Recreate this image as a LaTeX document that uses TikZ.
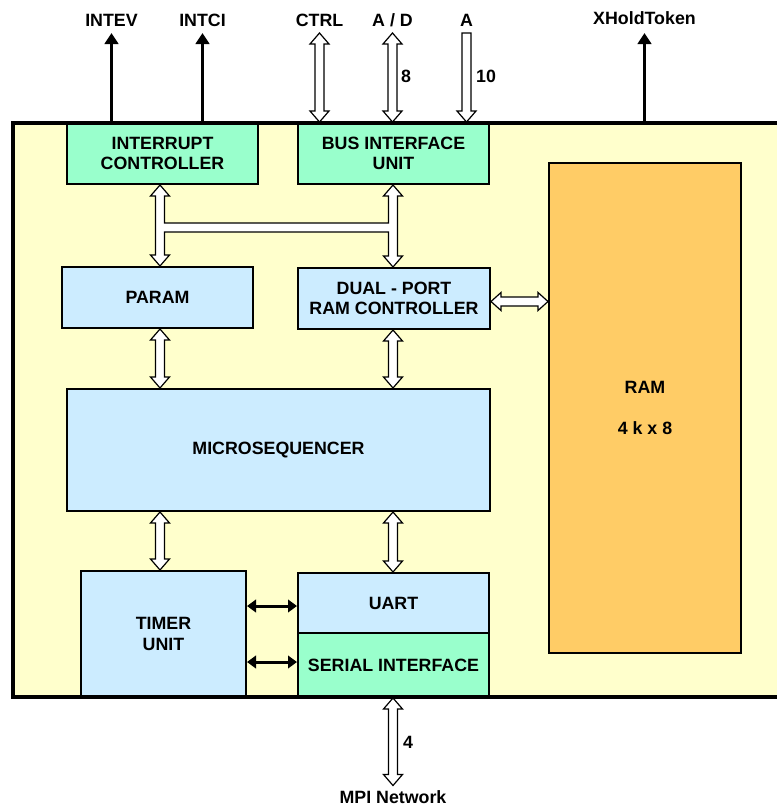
\documentclass[tikz,border=0pt]{standalone}
\usepackage{fontspec}
\setmainfont{Liberation Sans}
\usetikzlibrary{arrows.meta,calc}
\definecolor{bgy}{HTML}{FFFFCC}
\definecolor{mint}{HTML}{99FFCC}
\definecolor{lblue}{HTML}{CCECFF}
\definecolor{ramor}{HTML}{FFCC66}
\newcommand\shaftw{4.5pt}
\newcommand\headw{9.5pt}
\newcommand\headl{11pt}
% vertical hollow double arrow: #1 top point, #2 bottom point
\newcommand\vdbl[2]{\draw[hollow] let \p1=(#1), \p2=(#2) in
 (\x1,\y1) -- (\x1+\headw,\y1-\headl) -- (\x1+\shaftw,\y1-\headl) -- (\x1+\shaftw,\y2+\headl)
 -- (\x1+\headw,\y2+\headl) -- (\x1,\y2) -- (\x1-\headw,\y2+\headl) -- (\x1-\shaftw,\y2+\headl)
 -- (\x1-\shaftw,\y1-\headl) -- (\x1-\headw,\y1-\headl) -- cycle;}
% vertical hollow single arrow pointing down: #1 top, #2 bottom tip
\newcommand\vsgl[2]{\draw[hollow] let \p1=(#1), \p2=(#2) in
 (\x1-\shaftw,\y1) -- (\x1+\shaftw,\y1) -- (\x1+\shaftw,\y2+\headl) -- (\x1+\headw,\y2+\headl)
 -- (\x1,\y2) -- (\x1-\headw,\y2+\headl) -- (\x1-\shaftw,\y2+\headl) -- cycle;}
% horizontal hollow double arrow: #1 left point, #2 right point (x only)
\newcommand\hdbl[2]{\draw[hollow] let \p1=(#1), \p2=(#2) in
 (\x1,\y1) -- (\x1+10pt,\y1+9pt) -- (\x1+10pt,\y1+\shaftw) -- (\x2-10pt,\y1+\shaftw)
 -- (\x2-10pt,\y1+9pt) -- (\x2,\y1) -- (\x2-10pt,\y1-9pt) -- (\x2-10pt,\y1-\shaftw)
 -- (\x1+10pt,\y1-\shaftw) -- (\x1+10pt,\y1-9pt) -- cycle;}
\begin{document}
\begin{tikzpicture}[x=1pt,y=-1pt,
  font=\bfseries\fontsize{17.8}{20.5}\selectfont,
  box/.style={draw, line width=2pt, align=center, inner sep=0pt},
  lbl/.style={inner sep=0pt, anchor=base},
  num/.style={inner sep=0pt, anchor=west},
  hollow/.style={draw, fill=white, line width=1.2pt, line join=miter},
  blk/.style={line width=3.5pt, -{Triangle[width=13.5pt,length=11pt]}},
  blk2/.style={line width=3pt, {Triangle[width=12.5pt,length=9pt]}-{Triangle[width=12.5pt,length=9pt]}}]
\useasboundingbox (0,0) rectangle (777,807);
\fill[bgy] (13,122.5) rectangle (777,697);

% blocks
\node[box, fill=mint, minimum width=191, minimum height=61] (ic) at (162.5,153.5) {INTERRUPT\\CONTROLLER};
\node[box, fill=mint, minimum width=191, minimum height=61] (biu) at (393.5,153.5) {BUS INTERFACE\\UNIT};
\node[box, fill=lblue, minimum width=191, minimum height=61] (param) at (157.5,297.5) {PARAM};
\node[box, fill=lblue, minimum width=192, minimum height=61] (dprc) at (394,298.5) {DUAL - PORT\\RAM CONTROLLER};
\node[box, fill=ramor, minimum width=192, minimum height=490] (ram) at (645,408) {RAM\\[20.5pt]4 k x 8};
\node[box, fill=lblue, minimum width=423, minimum height=122] (micro) at (278.5,450) {MICROSEQUENCER};
\node[box, fill=lblue, minimum width=165, minimum height=126] (timer) at (163.5,634) {TIMER\\UNIT};
\node[box, fill=lblue, minimum width=191, minimum height=60] (uart) at (393.5,603) {UART};
\node[box, fill=mint, minimum width=191, minimum height=64] (si) at (393.5,665) {SERIAL INTERFACE};

% labels
\node[lbl] (intev) at (111.5,26.5) {INTEV};
\node[lbl] (intci) at (202.5,26.5) {INTCI};
\node[lbl] (ctrl) at (319.5,26.5) {CTRL};
\node[lbl] (ad) at (392.5,26.5) {A / D};
\node[lbl] (aa) at (466.5,26.5) {A};
\node[lbl] (xht) at (644.5,24.5) {XHoldToken};
\node[lbl] (mpi) at (393,803.5) {MPI Network};
\node[num] (n8) at (401,76) {8};
\node[num] (n10) at (476,76) {10};
\node[num] (n4) at (403,742) {4};

\coordinate (cL) at (160,0);
\coordinate (cR) at (393,0);
\coordinate (topb) at (0,122.5);
\coordinate (ua) at ([yshift=-3pt]uart.west);
\coordinate (sa) at ([yshift=3pt]si.west);

% hollow buses
\vdbl{[yshift=-6.5pt]ctrl.base}{biu.north -| ctrl.base}
\vdbl{[yshift=-6.5pt]ad.base}{biu.north -| ad.base}
\vsgl{[yshift=-6.5pt]aa.base}{biu.north -| aa.base}
\draw[hollow] let \p1=(ic.south -| cL), \p2=(param.north -| cL), \p3=(biu.south -| cR), \p4=(dprc.north -| cR),
  \n1={0.5*(\y1+\y2)-2pt} in
 (\x1,\y1) -- (\x1+\headw,\y1-\headl) -- (\x1+\shaftw,\y1-\headl) -- (\x1+\shaftw,\n1+\shaftw)
 -- (\x3-\shaftw,\n1+\shaftw) -- (\x3-\shaftw,\y3-\headl) -- (\x3-\headw,\y3-\headl) -- (\x3,\y3)
 -- (\x3+\headw,\y3-\headl) -- (\x3+\shaftw,\y3-\headl) -- (\x3+\shaftw,\y4+\headl) -- (\x3+\headw,\y4+\headl)
 -- (\x4,\y4) -- (\x3-\headw,\y4+\headl) -- (\x3-\shaftw,\y4+\headl) -- (\x3-\shaftw,\n1-\shaftw)
 -- (\x1+\shaftw,\n1-\shaftw) -- (\x1+\shaftw,\y2+\headl) -- (\x1+\headw,\y2+\headl) -- (\x2,\y2)
 -- (\x1-\headw,\y2+\headl) -- (\x1-\shaftw,\y2+\headl) -- (\x1-\shaftw,\y1-\headl) -- (\x1-\headw,\y1-\headl) -- cycle;
\vdbl{param.south -| cL}{micro.north -| cL}
\vdbl{dprc.south -| cR}{micro.north -| cR}
\vdbl{micro.south -| cL}{timer.north -| cL}
\vdbl{micro.south -| cR}{uart.north -| cR}
\vdbl{si.south -| cR}{[yshift=18pt]mpi.base}
\hdbl{[yshift=-3pt]dprc.east}{ram.west}

% black signals
\draw[blk2] (timer.east |- ua) -- (ua);
\draw[blk2] (timer.east |- sa) -- (sa);

% outer frame
\draw[line width=4pt] (777,122.5) -- (13,122.5) -- (13,697) -- (777,697);

\draw[blk] (topb -| intev.base) -- ([yshift=-6.5pt]intev.base);
\draw[blk] (topb -| intci.base) -- ([yshift=-6.5pt]intci.base);
\draw[blk] (topb -| xht.base) -- ([yshift=-8.5pt]xht.base);
\end{tikzpicture}
\end{document}
